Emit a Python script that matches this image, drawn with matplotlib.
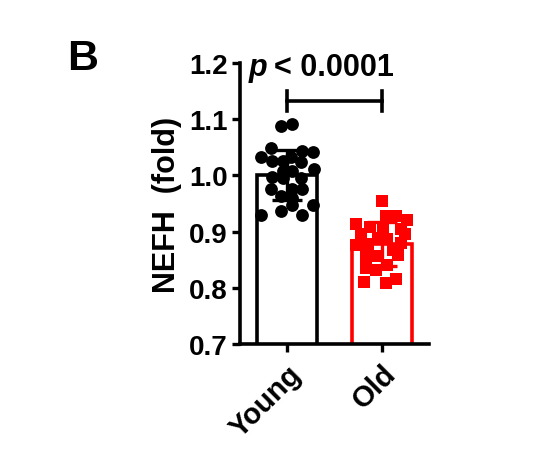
import numpy as np
import matplotlib
matplotlib.use("Agg")
import matplotlib.pyplot as plt

plt.rcParams['font.family'] = ['Liberation Sans', 'DejaVu Sans']
plt.rcParams['font.weight'] = 'bold'

groups = ["Young", "Old"]

# NEFH fold values
young_vals = [1.091, 1.088, 1.048, 1.043, 1.042, 1.033, 1.032, 1.026, 1.026,
              1.023, 1.011, 1.008, 1.008, 0.998, 0.996, 0.996, 0.976, 0.975,
              0.975, 0.963, 0.960, 0.948, 0.948, 0.936, 0.930, 0.929]
young_jitter = [0.055, -0.07, -0.175, 0.16, 0.27, -0.28, 0.04, -0.157, -0.05,
                0.143, 0.28, -0.05, 0.055, -0.157, 0.143, -0.05, -0.175, 0.055,
                0.16, -0.07, 0.055, 0.27, 0.055, -0.07, -0.28, 0.16]

old_vals = [0.955, 0.913, 0.927, 0.927, 0.921, 0.909, 0.904, 0.905, 0.877,
            0.878, 0.889, 0.886, 0.880, 0.856, 0.857, 0.859, 0.835, 0.832,
            0.840, 0.810, 0.808, 0.815, 0.895, 0.895, 0.868]
old_jitter = [0.0, -0.27, 0.04, 0.15, 0.27, -0.12, 0.01, 0.2, -0.27,
              -0.15, -0.04, 0.06, 0.2, -0.17, -0.04, 0.17, -0.17, -0.06,
              0.06, -0.19, 0.04, 0.15, 0.25, -0.22, 0.12]

fig = plt.figure(figsize=(5.34, 4.52), dpi=100)
ax = fig.add_axes([0.4494, 0.2367, 0.354, 0.6217])

colors = ["black", "#ff0000"]
all_vals = [young_vals, old_vals]
all_jit = [young_jitter, old_jitter]
markers = ["o", "s"]

for i, (vals, jit) in enumerate(zip(all_vals, all_jit)):
    vals = np.array(vals)
    m = vals.mean()
    sd = vals.std(ddof=1)
    ax.bar(i, m, width=0.63, color="white", edgecolor=colors[i],
           linewidth=2.6, zorder=1)
    ax.scatter(i + np.array(jit), vals, s=85, marker=markers[i],
               color=colors[i], linewidths=0, zorder=2)
    ax.errorbar(i, m, yerr=sd, color=colors[i], capsize=11,
                elinewidth=2.4, capthick=2.4, zorder=3)

# significance bracket
ax.plot([0, 1], [1.132, 1.132], color="black", lw=2.6, clip_on=False)
ax.plot([0, 0], [1.114, 1.150], color="black", lw=2.6, clip_on=False)
ax.plot([1, 1], [1.114, 1.150], color="black", lw=2.6, clip_on=False)
ax.text(-0.41, 1.193, "p", style="italic", fontsize=22, fontweight="bold",
        ha="left", va="center")
ax.text(-0.14, 1.193, "< 0.0001", fontsize=22, fontweight="bold",
        ha="left", va="center")

ax.set_xlim(-0.5, 1.5)
ax.set_ylim(0.7, 1.2)
ax.set_yticks([0.7, 0.8, 0.9, 1.0, 1.1, 1.2])
ax.set_yticklabels(["0.7", "0.8", "0.9", "1.0", "1.1", "1.2"])
ax.set_xticks([0, 1])
ax.set_xticklabels(groups, rotation=45, ha="right", rotation_mode="anchor")
ax.tick_params(axis="both", labelsize=20, width=2.4, length=6, pad=3)
ax.tick_params(axis="x", labelsize=21, pad=5)
for lab in ax.get_xticklabels() + ax.get_yticklabels():
    lab.set_fontweight("bold")

for s in ["top", "right"]:
    ax.spines[s].set_visible(False)
for s in ["left", "bottom"]:
    ax.spines[s].set_linewidth(2.6)

ax.set_ylabel("NEFH  (fold)", fontsize=22, fontweight="bold", labelpad=5)

fig.text(0.155, 0.87, "B", fontsize=31, fontweight="bold", ha="center",
         va="center")

fig.savefig("out.png", dpi=100)
